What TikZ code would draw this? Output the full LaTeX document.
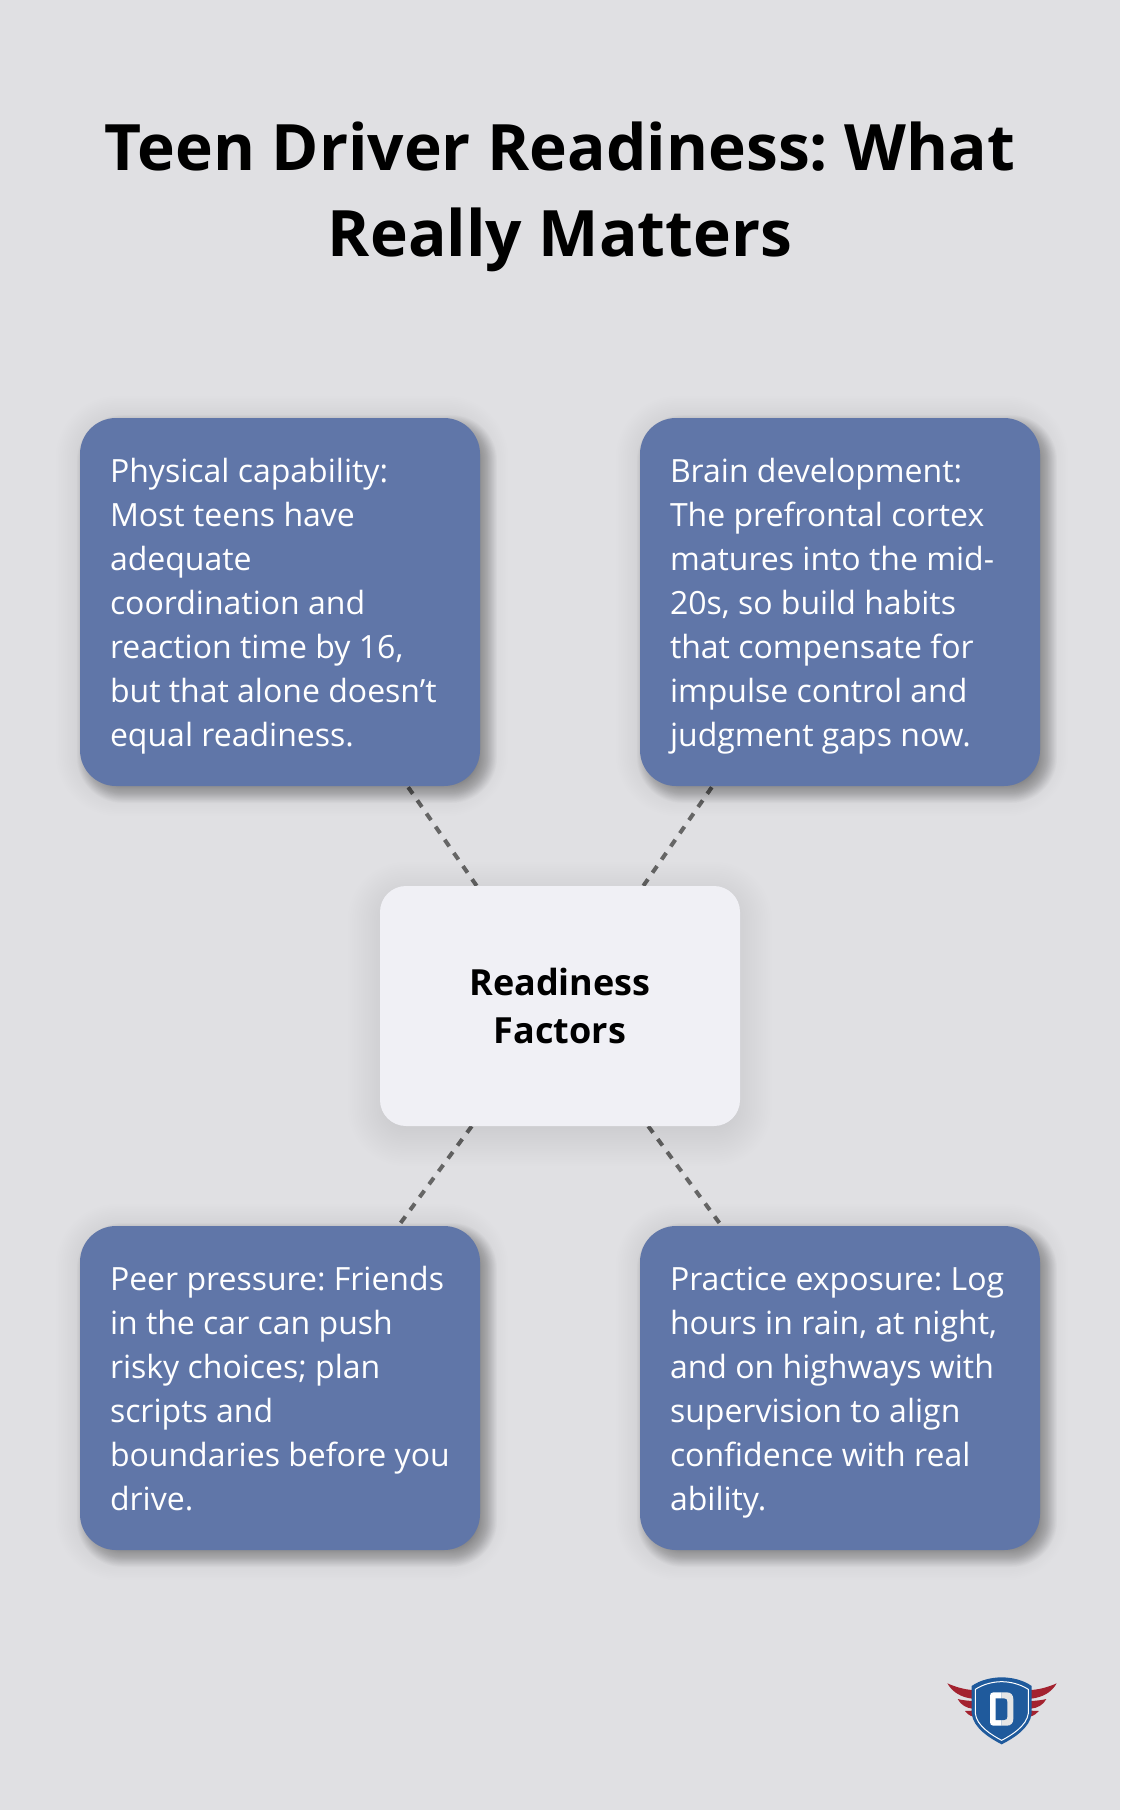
\documentclass[tikz,border=0pt]{standalone}
\usepackage{fontspec}
\setmainfont{Open Sans}
\frenchspacing
\usetikzlibrary{calc, backgrounds}
\definecolor{pagegray}{HTML}{E0E0E3}
\definecolor{factorblue}{HTML}{6076A8}
\definecolor{hubwhite}{HTML}{F0F0F5}
\definecolor{dashgray}{HTML}{666666}
\definecolor{shieldblue}{HTML}{1F5A9C}
\definecolor{wingred}{HTML}{A3222F}
% node, shift x, shift y, spread, corner, opacity per step
\newcommand{\softshadow}[6]{%
  \foreach \k in {0,...,29} {
    \pgfmathsetmacro{\sprd}{#4*(1-\k/14.5)}
    \pgfmathsetmacro{\rad}{max(2,#5+\sprd)}
    \fill[black, opacity=#6, rounded corners=\rad pt]
      ($(#1.south west)+(#2-\sprd,#3+\sprd)$) rectangle ($(#1.north east)+(#2+\sprd,#3-\sprd)$);
  }%
}
\tikzset{
  factorbox/.style={fill=factorblue, text=white, rounded corners=36pt, minimum width=400pt,
    text width=340pt, inner sep=0pt, align=flush left, font=\fontsize{32}{44}\selectfont,
    execute at begin node={\leavevmode\rule{0pt}{32pt}},
    execute at end node={\rule[-8pt]{0pt}{8pt}}},
  hubbox/.style={fill=hubwhite, text=black, rounded corners=26pt, minimum width=360pt, minimum height=240pt,
    align=center, font=\fontsize{36}{48}\selectfont\bfseries},
  tie/.style={dashgray, line width=4pt, dash pattern=on 8pt off 8pt}
}
\begin{document}
\begin{tikzpicture}[x=1pt, y=-1pt]
\useasboundingbox (0,0) rectangle (1120,1810);

% Title
\node[font=\fontsize{64}{86}\selectfont\bfseries, align=center] (title) at (560,197)
  {Teen Driver Readiness: What\\Really Matters};

% Boxes
\node[factorbox, minimum height=368pt] (physical) at (280,602)
  {Physical capability:\\Most teens have\\adequate\\coordination and\\reaction time by 16,\\but that alone doesn’t\\equal readiness.};
\node[factorbox, minimum height=368pt] (brain) at (840,602)
  {Brain development:\\The prefrontal cortex\\matures into the mid-\\20s, so build habits\\that compensate for\\impulse control and\\judgment gaps now.};
\node[hubbox] (hub) at (560,1006) {Readiness\\Factors};
\node[factorbox, minimum height=324pt] (peer) at (280,1388)
  {Peer pressure: Friends\\in the car can push\\risky choices; plan\\scripts and\\boundaries before you\\drive.};
\node[factorbox, minimum height=324pt] (practice) at (840,1388)
  {Practice exposure: Log\\hours in rain, at night,\\and on highways with\\supervision to align\\confidence with real\\ability.};

\begin{pgfonlayer}{background}
\fill[pagegray] (0,0) rectangle (1120,1810);
% Ties
\foreach \bx in {physical, brain, peer, practice} {
    \draw[tie] (hub) -- (\bx);
}
% Shadows
\foreach \bx in {physical, brain, peer, practice} {
    \softshadow{\bx}{2}{4}{26}{36}{0.0024}
    \softshadow{\bx}{7}{7}{10}{36}{0.011}
}
\softshadow{hub}{0}{8}{32}{26}{0.0055}
\end{pgfonlayer}

% Logo
\begin{scope}[shift={(930,1660)}, scale=1/3]
\fill[wingred] (52,70) .. controls (75,80) and (100,88) .. (127,90) -- (127,116) .. controls (95,112) and (68,98) .. cycle;
\fill[wingred] (83,117) .. controls (95,120) and (110,122) .. (127,123) -- (127,146) .. controls (110,144) and (92,135) .. cycle;
\fill[wingred] (105,153) -- (127,152) -- (130,170) .. controls (118,167) and (110,160) .. cycle;
\fill[wingred] (380,70) .. controls (357,80) and (332,88) .. (303,90) -- (303,116) .. controls (337,112) and (364,98) .. cycle;
\fill[wingred] (349,117) .. controls (337,120) and (322,122) .. (303,123) -- (303,146) .. controls (322,144) and (340,135) .. cycle;
\fill[wingred] (327,153) -- (303,152) -- (300,170) .. controls (312,167) and (320,160) .. cycle;
\fill[shieldblue] (125,78) .. controls (150,60) and (185,52) .. (215,52) .. controls (245,52) and (280,60) .. (305,78)
  -- (305,160) .. controls (300,205) and (250,235) .. (215,253) .. controls (180,235) and (130,205) .. (125,160) -- cycle;
\draw[white, line width=1pt] (136,88) .. controls (160,72) and (190,65) .. (215,65) .. controls (240,65) and (270,72) .. (295,88)
  -- (295,160) .. controls (290,198) and (245,225) .. (215,241) .. controls (185,225) and (140,198) .. (136,160) -- cycle;
\fill[white] (215,97) -- (190,97) .. controls (184,97) and (180,101) .. (180,107) -- (180,187) .. controls (180,193) and (184,197) .. (190,197) -- (215,197) -- cycle;
\fill[black!10] (215,97) -- (230,97) .. controls (243,97) and (250,105) .. (250,118) -- (250,176) .. controls (250,189) and (243,197) .. (230,197) -- (215,197) -- cycle;
\fill[shieldblue] (197,115) -- (222,115) .. controls (229,115) and (232,119) .. (232,126) -- (232,170) .. controls (232,177) and (229,180) .. (222,180) -- (197,180) -- cycle;
\end{scope}
\end{tikzpicture}
\end{document}
